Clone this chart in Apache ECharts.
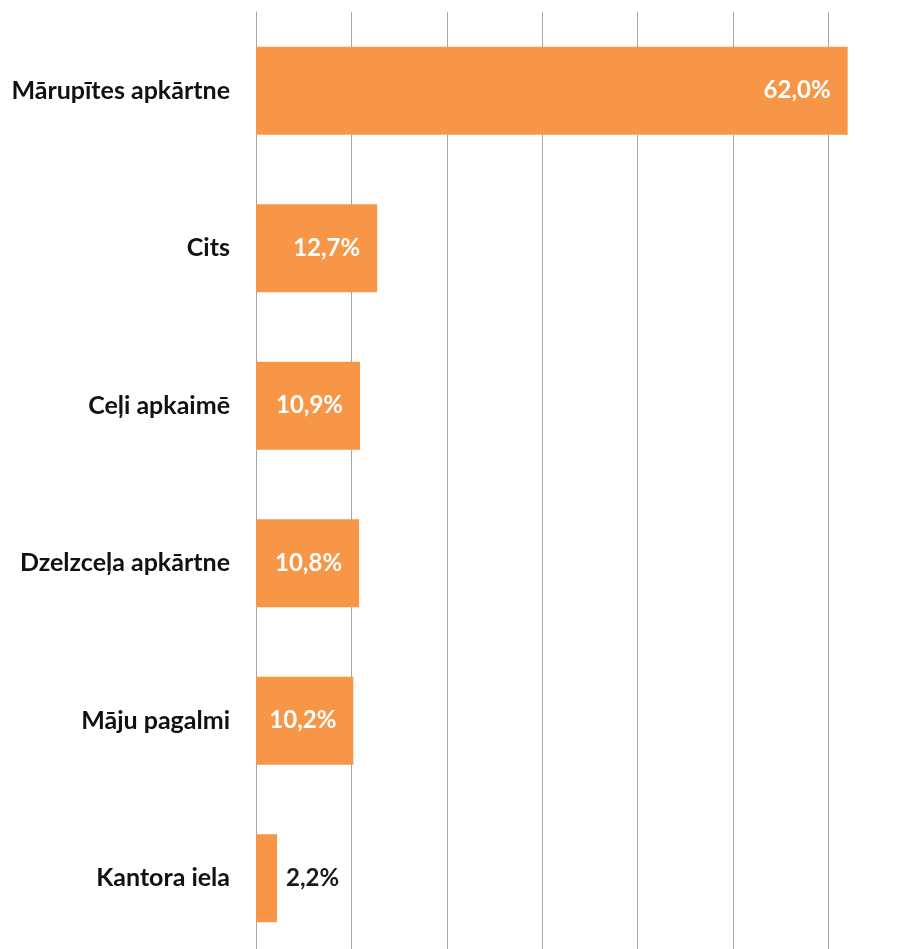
<!DOCTYPE html>
<html lang="en">

<head>
    <meta charset="UTF-8">
    <title>Bar chart</title>
    <script src="https://cdn.jsdelivr.net/npm/echarts@6/dist/echarts.min.js"></script>
    <style>
        html, body { margin: 0; padding: 0; background: #fff; }
        #main { width: 913px; height: 949px; }
    </style>
</head>

<body>
    <div id="main"></div>
    <script>
    // data, top to bottom
    var categories = ['Mārupītes apkārtne', 'Cits', 'Ceļi apkaimē', 'Dzelzceļa apkārtne', 'Māju pagalmi', 'Kantora iela'];
    var values = [62.0, 12.7, 10.9, 10.8, 10.2, 2.2];

    var myChart = echarts.init(document.getElementById('main'));

    var fontFamily = 'Lato, "Open Sans", sans-serif';

    var barData = values.map(function (v) {
        // small bar gets its label outside, in dark text
        if (v < 5) {
            return {
                value: v,
                label: { position: 'right', color: '#1a1a1a', distance: 9 }
            };
        }
        return v;
    });

    var option = {
        animation: false,
        // plot runs past the right/bottom edge like the original
        grid: { left: 256, top: 12, width: 668, height: 945, outerBoundsMode: 'none' },
        xAxis: {
            type: 'value',
            min: 0,
            max: 70,
            interval: 10,
            axisLabel: { show: false },
            axisLine: { show: false },
            axisTick: { show: false },
            splitLine: { show: true, lineStyle: { color: '#a6a6a6', width: 1 } }
        },
        yAxis: {
            type: 'category',
            inverse: true,
            data: categories,
            axisLine: { show: true, lineStyle: { color: '#a6a6a6' } },
            axisTick: { show: false },
            axisLabel: {
                margin: 26,
                color: '#111',
                fontFamily: fontFamily,
                fontWeight: 'bold',
                fontSize: 25
            }
        },
        series: [{
            type: 'bar',
            data: barData,
            barWidth: 88,
            itemStyle: { color: '#f79646' },
            label: {
                show: true,
                position: 'insideRight',
                distance: 17,
                color: '#fff',
                fontFamily: fontFamily,
                fontWeight: 'bold',
                fontSize: 24,
                formatter: function (p) {
                    return p.value.toFixed(1).replace('.', ',') + '%';
                }
            }
        }]
    };

    myChart.setOption(option);
    </script>
</body>

</html>
